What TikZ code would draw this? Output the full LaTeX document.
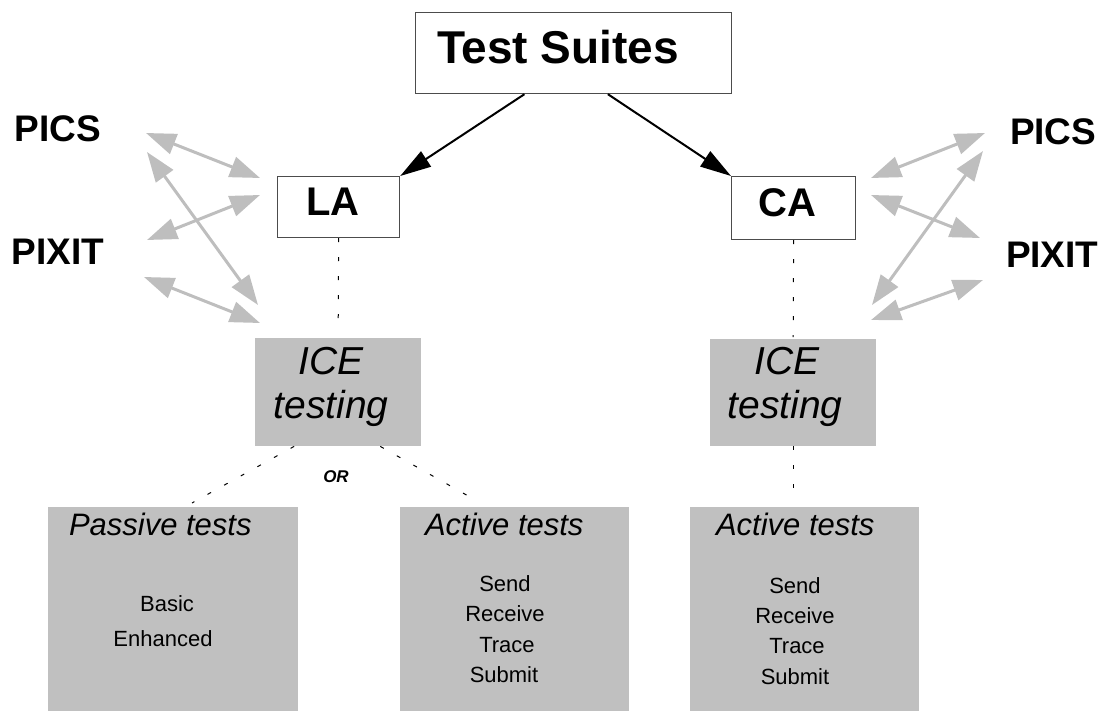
\documentclass[tikz,border=0pt]{standalone}
\usepackage{fontspec}
\setmainfont{Liberation Sans}
\usetikzlibrary{arrows.meta,calc}
\definecolor{panelgray}{HTML}{C0C0C0}
\definecolor{linkgray}{HTML}{BEBEBE}

\tikzset{
  outlinebox/.style={draw=black!70, line width=1.2pt, fill=white, inner sep=0pt, anchor=north west},
  grayblock/.style={fill=panelgray, draw=none, inner sep=0pt, anchor=north west},
  lbl/.style={inner sep=0pt, outer sep=0pt},
  boldtxt/.style={lbl, font=\fontsize{#1}{#1}\selectfont\bfseries},
  itxt/.style={lbl, font=\fontsize{#1}{#1}\selectfont\itshape},
  rtxt/.style={lbl, font=\fontsize{#1}{#1}\selectfont},
  mainlink/.style={draw=black, line width=2pt,
    -{Triangle[length=31pt,width=18pt,fill=black]}},
  paramlink/.style={draw=linkgray, line width=3pt,
    {Triangle[length=30pt,width=21pt,fill=linkgray]}-{Triangle[length=30pt,width=21pt,fill=linkgray]}},
  dotlink/.style={draw=black, line width=1pt, dash pattern=on 4pt off 15pt},
  orlink/.style={draw=black, line width=1pt, dash pattern=on 4pt off 15pt}
}

\begin{document}
\begin{tikzpicture}[x=1pt,y=-1pt]
  \useasboundingbox (0,0) rectangle (1109,711);

  % ---- boxes ----
  \node[outlinebox, minimum width=316pt, minimum height=81pt] (ts) at (415,12) {};
  \node[outlinebox, minimum width=122pt, minimum height=61pt] (la) at (277,176) {};
  \node[outlinebox, minimum width=124pt, minimum height=63pt] (ca) at (731,176) {};
  \node[grayblock, minimum width=166pt, minimum height=108pt] (ice1) at (255,338) {};
  \node[grayblock, minimum width=166pt, minimum height=107pt] (ice2) at (710,339) {};
  \node[grayblock, minimum width=250pt, minimum height=204pt] (pas) at (48,507) {};
  \node[grayblock, minimum width=229pt, minimum height=204pt] (act1) at (400,507) {};
  \node[grayblock, minimum width=229pt, minimum height=204pt] (act2) at (690,507) {};

  % ---- box titles ----
  \node[boldtxt=46, anchor=base west] (tstxt) at (437,64) {Test Suites};
  \node[boldtxt=40, anchor=center] (latxt) at (333,202) {LA};
  \node[boldtxt=40, anchor=center] (catxt) at (787,203) {CA};

  \node[itxt=39, anchor=base] (ice1a) at (331,375) {ICE};
  \node[itxt=39, anchor=base] (ice1b) at (331,418) {testing};
  \node[itxt=39, anchor=base] (ice2a) at (787,375) {ICE};
  \node[itxt=39, anchor=base] (ice2b) at (785,418) {testing};

  % ---- side labels ----
  \node[boldtxt=37, anchor=base west] (picsL) at (15,142) {PICS};
  \node[boldtxt=37, anchor=base west] (pixitL) at (12,265) {PIXIT};
  \node[boldtxt=37, anchor=base west] (picsR) at (1010,145) {PICS};
  \node[boldtxt=37, anchor=base west] (pixitR) at (1006,268) {PIXIT};

  % ---- test groups ----
  \node[itxt=31, anchor=base west] (pastitle) at (69,535) {Passive tests};
  \node[rtxt=22, anchor=base] (basic) at (167,611) {Basic};
  \node[rtxt=22, anchor=base] (enh) at (163,646) {Enhanced};

  \node[itxt=31, anchor=base west] (act1title) at (425,535) {Active tests};
  \node[rtxt=22, anchor=base] (send1) at (505,591) {Send};
  \node[rtxt=22, anchor=base] (recv1) at (505,621) {Receive};
  \node[rtxt=22, anchor=base] (trace1) at (507,652) {Trace};
  \node[rtxt=22, anchor=base] (sub1) at (504,682) {Submit};

  \node[itxt=31, anchor=base west] (act2title) at (716,535) {Active tests};
  \node[rtxt=22, anchor=base] (send2) at (795,593) {Send};
  \node[rtxt=22, anchor=base] (recv2) at (795,623) {Receive};
  \node[rtxt=22, anchor=base] (trace2) at (797,653) {Trace};
  \node[rtxt=22, anchor=base] (sub2) at (795,684) {Submit};

  \node[lbl, font=\fontsize{17}{17}\selectfont\bfseries\itshape] (ortxt) at (336,477) {OR};

  % ---- suite to adapters ----
  \draw[mainlink] ($(ts.south west)!0.345!(ts.south east)$) -- (la.north east);
  \draw[mainlink] ($(ts.south west)!0.608!(ts.south east)$) -- (ca.north west);

  % ---- adapters to ICE testing ----
  \draw[dotlink] (la.south) -- ($(ice1.north)+(0,-12)$);
  \draw[dotlink] (ca.south) -- ($(ca.south)!0.98!(ice2.north)$);
  \draw[dotlink] (ice2.south) -- ($(ice2.south |- act2.north)+(0,-14)$);

  % ---- ICE testing branches ----
  \coordinate (orL) at (192,503);
  \coordinate (orR) at (470,497);
  \draw[orlink] ($(ice1.south west)!0.235!(ice1.south east)$) -- (orL);
  \draw[orlink] ($(ice1.south west)!0.753!(ice1.south east)$) -- (orR);

  % ---- PICS / PIXIT exchanges, left side ----
  \coordinate (l1a) at (146,133); \coordinate (l1b) at (260,178);
  \coordinate (l2a) at (147,240); \coordinate (l2b) at (260,195);
  \coordinate (l3a) at (147,152); \coordinate (l3b) at (258,305);
  \coordinate (l4a) at (144,277); \coordinate (l4b) at (260,323);
  \draw[paramlink] (l1a) -- (l1b);
  \draw[paramlink] (l2a) -- (l2b);
  \draw[paramlink] (l3a) -- (l3b);
  \draw[paramlink] (l4a) -- (l4b);

  % ---- PICS / PIXIT exchanges, right side ----
  \coordinate (r1a) at (871,178); \coordinate (r1b) at (985,133);
  \coordinate (r2a) at (871,195); \coordinate (r2b) at (980,238);
  \coordinate (r3a) at (872,305); \coordinate (r3b) at (983,151);
  \coordinate (r4a) at (871,320); \coordinate (r4b) at (983,280);
  \draw[paramlink] (r1a) -- (r1b);
  \draw[paramlink] (r2a) -- (r2b);
  \draw[paramlink] (r3a) -- (r3b);
  \draw[paramlink] (r4a) -- (r4b);
\end{tikzpicture}
\end{document}
